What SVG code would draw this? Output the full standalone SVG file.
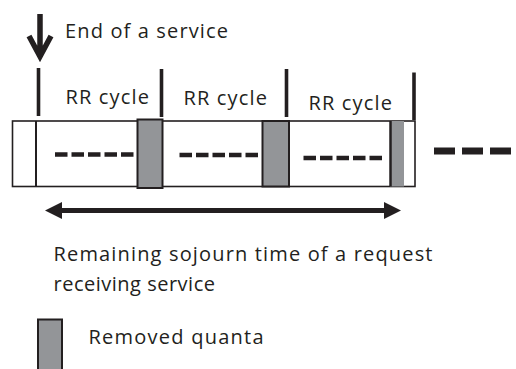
<svg xmlns="http://www.w3.org/2000/svg" width="516" height="369" viewBox="0 0 516 369">
  <style>
    .txt { font-family: "Open Sans", "Noto Sans", "Liberation Sans", sans-serif; font-size: 20px; fill: #231f20; }
    .frame { fill: #ffffff; stroke: #231f20; stroke-width: 1.6; }
    .quantum { fill: #939598; stroke: #231f20; stroke-width: 2; }
    .tick { stroke: #231f20; stroke-width: 3.6; }
    .dash { stroke: #231f20; stroke-width: 4.5; stroke-dasharray: 12.5 4; fill: none; }
    .bigdash { stroke: #231f20; stroke-width: 7; stroke-dasharray: 21 7; fill: none; }
  </style>
  <defs>
    <marker id="head" markerUnits="userSpaceOnUse" markerWidth="18" markerHeight="18" viewBox="0 0 18 18" refX="2" refY="9" orient="auto-start-reverse">
      <path d="M0 0.5 L17 9 L0 17.5 Z" fill="#231f20"/>
    </marker>
  </defs>

  <rect width="516" height="369" fill="#ffffff"/>

  <!-- service-end marker -->
  <g id="service-end">
    <path d="M40 14 V56 M29 36 L40 56.5 L51 36" fill="none" stroke="#231f20" stroke-width="5.5"/>
    <text class="txt" x="65" y="38" textLength="163" lengthAdjust="spacing">End of a service</text>
  </g>

  <!-- time line bar -->
  <g id="timeline">
    <rect class="frame" x="12.5" y="121" width="402.5" height="65.5"/>
    <line x1="36" y1="121" x2="36" y2="186.5" stroke="#231f20" stroke-width="2"/>
  </g>

  <!-- round-robin cycles -->
  <g id="cycle-1">
    <line class="tick" x1="38.5" y1="68" x2="38.5" y2="116"/>
    <text class="txt" x="65.5" y="103.5" textLength="83.5" lengthAdjust="spacing">RR cycle</text>
    <line class="dash" x1="55" y1="154.5" x2="135" y2="154.5"/>
    <rect class="quantum" x="137.5" y="119.5" width="25" height="68.5"/>
  </g>

  <g id="cycle-2">
    <line class="tick" x1="161.5" y1="69" x2="161.5" y2="117"/>
    <text class="txt" x="183.5" y="104.5" textLength="83.5" lengthAdjust="spacing">RR cycle</text>
    <line class="dash" x1="179.5" y1="155" x2="259.5" y2="155"/>
    <rect class="quantum" x="262.5" y="121" width="26.5" height="65.5"/>
  </g>

  <g id="cycle-3">
    <line class="tick" x1="286.5" y1="69" x2="286.5" y2="117"/>
    <text class="txt" x="308.5" y="110" textLength="83.5" lengthAdjust="spacing">RR cycle</text>
    <line class="dash" x1="303.5" y1="158" x2="384.5" y2="158"/>
    <rect x="390" y="121" width="14" height="65.5" fill="#939598"/>
    <line x1="390.5" y1="121" x2="390.5" y2="186.5" stroke="#231f20" stroke-width="2.5"/>
    <line class="tick" x1="414" y1="72.5" x2="414" y2="120"/>
  </g>

  <!-- continuation -->
  <g id="continuation">
    <line class="bigdash" x1="434" y1="151" x2="511" y2="151"/>
  </g>

  <!-- connectors -->
  <g id="connectors">
    <line x1="60" y1="210.5" x2="386" y2="210.5" stroke="#231f20" stroke-width="5" marker-start="url(#head)" marker-end="url(#head)"/>
  </g>

  <g id="sojourn-label">
    <text class="txt" x="53.5" y="261" textLength="379" lengthAdjust="spacing">Remaining sojourn time of a request</text>
    <text class="txt" x="53.5" y="291" textLength="161.5" lengthAdjust="spacing">receiving service</text>
  </g>

  <!-- legend -->
  <g id="legend">
    <rect class="quantum" x="38" y="319.5" width="24" height="55"/>
    <text class="txt" x="88.5" y="344" textLength="175" lengthAdjust="spacing">Removed quanta</text>
  </g>
</svg>
